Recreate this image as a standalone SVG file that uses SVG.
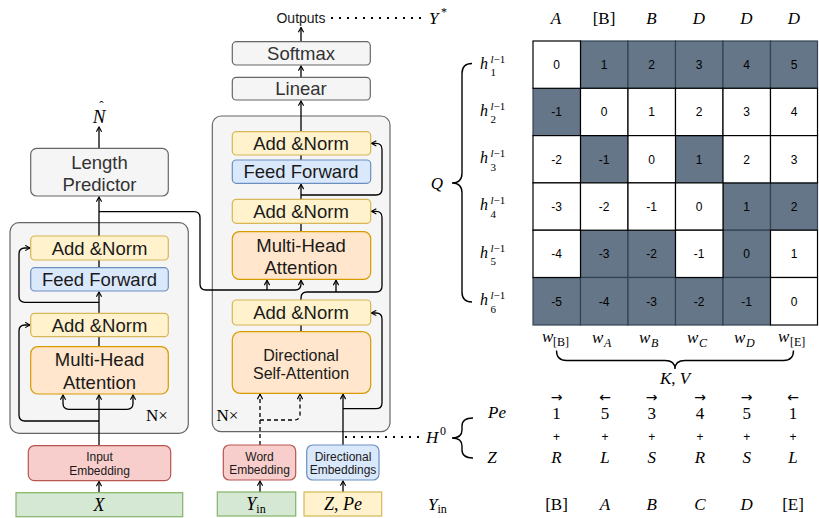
<svg xmlns="http://www.w3.org/2000/svg" width="819" height="518" viewBox="0 0 819 518">
<defs>
<marker id="ah" markerUnits="userSpaceOnUse" viewBox="0 0 8 8" refX="7" refY="4" markerWidth="7" markerHeight="7" orient="auto">
<path d="M1.5,1 L7,4 L1.5,7" fill="none" stroke="#000" stroke-width="1.3"/>
</marker>
<style>
.t{font-family:"Liberation Sans",Arial,sans-serif;text-anchor:middle;fill:#1a1a1a}
.big{font-size:18.5px}
.mid{font-size:16px}
.sm{font-size:12px}
.grey{fill:#333}
.m{font-family:"Liberation Serif","Times New Roman",serif;font-style:italic;fill:#000}
.r{font-family:"Liberation Serif","Times New Roman",serif;fill:#000}
.outer{fill:#f5f5f5;stroke:#666;stroke-width:1.2}
.gbox{fill:#f5f5f5;stroke:#666;stroke-width:1.2}
.an{fill:#fff2cc;stroke:#d6b656;stroke-width:1.2}
.ff{fill:#dae8fc;stroke:#6c8ebf;stroke-width:1.2}
.mha{fill:#ffe6cc;stroke:#d79b00;stroke-width:1.2}
.emb{fill:#f8cecc;stroke:#b85450;stroke-width:1.2}
.inp{fill:#d5e8d4;stroke:#82b366;stroke-width:1.2}
.c{fill:none;stroke:#000;stroke-width:1.3}
.a{marker-end:url(#ah)}
.d{stroke-dasharray:4 3}
.dot{fill:none;stroke:#000;stroke-width:2;stroke-dasharray:2 6}
.dk{fill:#647687;stroke:#314354;stroke-width:1.2}
.wh{fill:#fff;stroke:#000;stroke-width:1.2}
.n{font-family:"Liberation Sans",Arial,sans-serif;font-size:12px;text-anchor:middle;fill:#000}
.br{fill:none;stroke:#000;stroke-width:1.4}
</style>
</defs>

<!-- outer stacks -->
<g id="encoder-stack"><rect class="outer" x="10" y="222.7" width="178.3" height="210.6" rx="9"/>
<text class="r" x="146" y="421" font-size="17">N×</text></g>
<g id="decoder-stack"><rect class="outer" x="212.3" y="116" width="177.7" height="315.7" rx="9"/>
<text class="r" x="216.5" y="421" font-size="17">N×</text></g>

<!-- connectors -->
<g id="connectors">
<path class="c a" d="M99,492.7 V481.5"/>
<path class="c a" d="M99,445.7 V395"/>
<path class="c a" d="M99,409.3 H69 Q63,409.3 63,403.3 V395"/>
<path class="c a" d="M99,409.3 H127 Q133,409.3 133,403.3 V395"/>
<path class="c" d="M99,346.7 V336.7"/>
<path class="c a" d="M99,421 H25 Q19,421 19,415 V331 Q19,325 25,325 H30"/>
<path class="c a" d="M99,313.3 V292"/>
<path class="c" d="M99,267.7 V260"/>
<path class="c a" d="M99,302.3 H25 Q19,302.3 19,296.3 V254 Q19,248 25,248 H30"/>
<path class="c a" d="M99,236 V197"/>
<path class="c a" d="M99,148 V127"/>
<path class="c a" d="M99,211.7 H194 Q200,211.7 200,217.7 V284 Q200,290 206,290 H295 Q301,290 301,284 V280.3"/>
<path class="c a" d="M267,290 V280.3"/>
<path class="c a" d="M260,492 V481"/>
<path class="c a" d="M343,492 V481"/>
<path class="c a d" d="M260,445 V394.3"/>
<path class="c a d" d="M260,420 H294 Q300,420 300,414 V394.3"/>
<path class="c a" d="M343,445 V394.3"/>
<path class="c a" d="M343,408.7 H376 Q382,408.7 382,402.7 V319 Q382,313 376,313 H371.5"/>
<path class="c" d="M301,331.7 V325"/>
<path class="c a" d="M301,300 V298 Q301,292 307,292 H376 Q382,292 382,286 V217.3 Q382,211.3 376,211.3 H371.5"/>
<path class="c a" d="M336,292 V280.3"/>
<path class="c" d="M301,231.7 V223.3"/>
<path class="c a" d="M301,199.3 V184.3"/>
<path class="c a" d="M301,195 H376 Q382,195 382,189 V149.3 Q382,143.3 376,143.3 H371.5"/>
<path class="c" d="M301,160 V155"/>
<path class="c a" d="M301,131.7 V101"/>
<path class="c a" d="M301,77.3 V66"/>
<path class="c a" d="M301,41.7 V27.5"/>
<path class="dot" d="M331,18 H424"/>
<path class="dot" d="M345,437 H422"/>
</g>

<!-- encoder nodes -->
<g id="n-hat"><text class="m" x="99" y="122.5" font-size="19" text-anchor="middle">N</text><text class="r" x="101.5" y="110" font-size="13" text-anchor="middle">ˆ</text></g>
<g id="length-predictor"><rect class="gbox" x="30.7" y="148.3" width="137.6" height="47.7" rx="6"/>
<text class="t big grey" x="99.5" y="168.5">Length</text><text class="t big grey" x="99.5" y="190.5">Predictor</text></g>
<g id="enc-addnorm2"><rect class="an" x="30.7" y="236" width="137.6" height="24" rx="4"/><text class="t big" x="99.5" y="254.5">Add &amp;Norm</text></g>
<g id="enc-ff"><rect class="ff" x="30.7" y="267.7" width="137.6" height="23.3" rx="4"/><text class="t big" x="99.5" y="285.8">Feed Forward</text></g>
<g id="enc-addnorm1"><rect class="an" x="30.7" y="313.3" width="137.6" height="23.4" rx="4"/><text class="t big" x="99.5" y="331.5">Add &amp;Norm</text></g>
<g id="enc-mha"><rect class="mha" x="30.7" y="346.7" width="137.6" height="47.3" rx="7"/>
<text class="t big" x="99.5" y="365.5">Multi-Head</text><text class="t big" x="99.5" y="388.5">Attention</text></g>
<g id="input-embedding"><rect class="emb" x="28.3" y="445.7" width="142.4" height="35" rx="6"/>
<text class="t sm" x="99.5" y="461">Input</text><text class="t sm" x="99.5" y="474.5">Embedding</text></g>
<g id="x-input"><rect class="inp" x="16" y="492.7" width="166.7" height="24"/><text class="m" x="99" y="510.5" font-size="18" text-anchor="middle">X</text></g>

<!-- decoder nodes -->
<g id="outputs"><text class="t" x="301" y="22.5" font-size="14">Outputs</text></g>
<g id="softmax"><rect class="gbox" x="232.3" y="41.7" width="138" height="23.3" rx="4"/><text class="t big grey" x="301" y="59.8">Softmax</text></g>
<g id="linear"><rect class="gbox" x="232.3" y="77.3" width="138" height="22.7" rx="4"/><text class="t big grey" x="301" y="95.2">Linear</text></g>
<g id="dec-addnorm3"><rect class="an" x="232.3" y="131.7" width="138.4" height="23.3" rx="4"/><text class="t big" x="301" y="149.8">Add &amp;Norm</text></g>
<g id="dec-ff"><rect class="ff" x="232.3" y="160" width="138.4" height="23.3" rx="4"/><text class="t big" x="301" y="178.2">Feed Forward</text></g>
<g id="dec-addnorm2"><rect class="an" x="232.3" y="199.3" width="138.4" height="24" rx="4"/><text class="t big" x="301" y="217.8">Add &amp;Norm</text></g>
<g id="dec-mha"><rect class="mha" x="232.3" y="231.7" width="138.4" height="47.6" rx="7"/>
<text class="t big" x="301" y="251.5">Multi-Head</text><text class="t big" x="301" y="273.5">Attention</text></g>
<g id="dec-addnorm1"><rect class="an" x="232.3" y="300" width="138.4" height="25" rx="4"/><text class="t big" x="301" y="319">Add &amp;Norm</text></g>
<g id="dsa"><rect class="mha" x="232.3" y="331.7" width="138.4" height="61.6" rx="8"/>
<text class="t mid" x="301" y="360.7">Directional</text><text class="t mid" x="301" y="378.7">Self-Attention</text></g>
<g id="word-embedding"><rect class="emb" x="223.3" y="445" width="72.4" height="35" rx="6"/>
<text class="t sm" x="259.5" y="461">Word</text><text class="t sm" x="259.5" y="474">Embedding</text></g>
<g id="dir-embeddings"><rect class="ff" x="306.7" y="445" width="72.3" height="35" rx="6"/>
<text class="t sm" x="343" y="461">Directional</text><text class="t sm" x="343" y="474">Embeddings</text></g>
<g id="y-in"><rect class="inp" x="217.3" y="492" width="78.4" height="24"/>
<text class="m" x="256" y="510" font-size="18" text-anchor="middle">Y<tspan class="r" font-style="normal" font-size="12" dy="3">in</tspan></text></g>
<g id="z-pe"><rect class="an" x="304" y="492" width="77.7" height="24"/>
<text class="m" x="343" y="509.5" font-size="18" text-anchor="middle">Z<tspan font-style="normal">, </tspan>Pe</text></g>

<!-- matrix -->
<g id="matrix">
<g id="header">
<text class="m" x="429" y="23.5" font-size="17">Y</text><text class="r" x="441" y="16" font-size="12">*</text>
<text class="m" x="556" y="23.5" font-size="17" text-anchor="middle">A</text>
<text class="r" x="604" y="23.5" font-size="17" text-anchor="middle">[B]</text>
<text class="m" x="651.5" y="23.5" font-size="17" text-anchor="middle">B</text>
<text class="m" x="699" y="23.5" font-size="17" text-anchor="middle">D</text>
<text class="m" x="746.5" y="23.5" font-size="17" text-anchor="middle">D</text>
<text class="m" x="794" y="23.5" font-size="17" text-anchor="middle">D</text>
</g>
<g id="cells-dark">
<rect class="dk" x="580.5" y="41" width="47.5" height="47.3"/>
<rect class="dk" x="628" y="41" width="47.5" height="47.3"/>
<rect class="dk" x="675.5" y="41" width="47.5" height="47.3"/>
<rect class="dk" x="723" y="41" width="47.5" height="47.3"/>
<rect class="dk" x="770.5" y="41" width="47" height="47.3"/>
<rect class="dk" x="533" y="88.3" width="47.5" height="47.3"/>
<rect class="dk" x="580.5" y="135.6" width="47.5" height="47.3"/>
<rect class="dk" x="675.5" y="135.6" width="47.5" height="47.3"/>
<rect class="dk" x="723" y="182.9" width="47.5" height="47.3"/>
<rect class="dk" x="770.5" y="182.9" width="47" height="47.3"/>
<rect class="dk" x="580.5" y="230.2" width="47.5" height="47.3"/>
<rect class="dk" x="628" y="230.2" width="47.5" height="47.3"/>
<rect class="dk" x="723" y="230.2" width="47.5" height="47.3"/>
<rect class="dk" x="533" y="277.5" width="47.5" height="47.5"/>
<rect class="dk" x="580.5" y="277.5" width="47.5" height="47.5"/>
<rect class="dk" x="628" y="277.5" width="47.5" height="47.5"/>
<rect class="dk" x="675.5" y="277.5" width="47.5" height="47.5"/>
<rect class="dk" x="723" y="277.5" width="47.5" height="47.5"/>
</g>
<g id="cells-white">
<rect class="wh" x="533" y="41" width="47.5" height="47.3"/>
<rect class="wh" x="580.5" y="88.3" width="47.5" height="47.3"/>
<rect class="wh" x="628" y="88.3" width="47.5" height="47.3"/>
<rect class="wh" x="675.5" y="88.3" width="47.5" height="47.3"/>
<rect class="wh" x="723" y="88.3" width="47.5" height="47.3"/>
<rect class="wh" x="770.5" y="88.3" width="47" height="47.3"/>
<rect class="wh" x="533" y="135.6" width="47.5" height="47.3"/>
<rect class="wh" x="628" y="135.6" width="47.5" height="47.3"/>
<rect class="wh" x="723" y="135.6" width="47.5" height="47.3"/>
<rect class="wh" x="770.5" y="135.6" width="47" height="47.3"/>
<rect class="wh" x="533" y="182.9" width="47.5" height="47.3"/>
<rect class="wh" x="580.5" y="182.9" width="47.5" height="47.3"/>
<rect class="wh" x="628" y="182.9" width="47.5" height="47.3"/>
<rect class="wh" x="675.5" y="182.9" width="47.5" height="47.3"/>
<rect class="wh" x="533" y="230.2" width="47.5" height="47.3"/>
<rect class="wh" x="675.5" y="230.2" width="47.5" height="47.3"/>
<rect class="wh" x="770.5" y="230.2" width="47" height="47.3"/>
<rect class="wh" x="770.5" y="277.5" width="47" height="47.5"/>
</g>
<g id="cell-values">
<text class="n" x="556.7" y="69">0</text><text class="n" x="604.2" y="69">1</text><text class="n" x="651.7" y="69">2</text><text class="n" x="699.2" y="69">3</text><text class="n" x="746.7" y="69">4</text><text class="n" x="794" y="69">5</text>
<text class="n" x="556.7" y="116.3">-1</text><text class="n" x="604.2" y="116.3">0</text><text class="n" x="651.7" y="116.3">1</text><text class="n" x="699.2" y="116.3">2</text><text class="n" x="746.7" y="116.3">3</text><text class="n" x="794" y="116.3">4</text>
<text class="n" x="556.7" y="163.6">-2</text><text class="n" x="604.2" y="163.6">-1</text><text class="n" x="651.7" y="163.6">0</text><text class="n" x="699.2" y="163.6">1</text><text class="n" x="746.7" y="163.6">2</text><text class="n" x="794" y="163.6">3</text>
<text class="n" x="556.7" y="210.9">-3</text><text class="n" x="604.2" y="210.9">-2</text><text class="n" x="651.7" y="210.9">-1</text><text class="n" x="699.2" y="210.9">0</text><text class="n" x="746.7" y="210.9">1</text><text class="n" x="794" y="210.9">2</text>
<text class="n" x="556.7" y="258.2">-4</text><text class="n" x="604.2" y="258.2">-3</text><text class="n" x="651.7" y="258.2">-2</text><text class="n" x="699.2" y="258.2">-1</text><text class="n" x="746.7" y="258.2">0</text><text class="n" x="794" y="258.2">1</text>
<text class="n" x="556.7" y="305.5">-5</text><text class="n" x="604.2" y="305.5">-4</text><text class="n" x="651.7" y="305.5">-3</text><text class="n" x="699.2" y="305.5">-2</text><text class="n" x="746.7" y="305.5">-1</text><text class="n" x="794" y="305.5">0</text>
</g>
<g id="row-labels">
<text class="m" x="480" y="68.5" font-size="16">h</text><text class="m" x="490.5" y="62.5" font-size="11">l<tspan class="r" font-style="normal">−1</tspan></text><text class="r" x="490.5" y="76" font-size="11">1</text>
<text class="m" x="480" y="115.8" font-size="16">h</text><text class="m" x="490.5" y="109.8" font-size="11">l<tspan class="r" font-style="normal">−1</tspan></text><text class="r" x="490.5" y="123.3" font-size="11">2</text>
<text class="m" x="480" y="163.1" font-size="16">h</text><text class="m" x="490.5" y="157.1" font-size="11">l<tspan class="r" font-style="normal">−1</tspan></text><text class="r" x="490.5" y="170.6" font-size="11">3</text>
<text class="m" x="480" y="210.4" font-size="16">h</text><text class="m" x="490.5" y="204.4" font-size="11">l<tspan class="r" font-style="normal">−1</tspan></text><text class="r" x="490.5" y="217.9" font-size="11">4</text>
<text class="m" x="480" y="257.7" font-size="16">h</text><text class="m" x="490.5" y="251.7" font-size="11">l<tspan class="r" font-style="normal">−1</tspan></text><text class="r" x="490.5" y="265.2" font-size="11">5</text>
<text class="m" x="480" y="305" font-size="16">h</text><text class="m" x="490.5" y="299" font-size="11">l<tspan class="r" font-style="normal">−1</tspan></text><text class="r" x="490.5" y="312.5" font-size="11">6</text>
</g>
<g id="q-brace">
<path class="br" d="M472,63.5 Q462,63.5 462,73.5 V173 Q462,183 452,183 Q462,183 462,193 V292 Q462,302 472,302"/>
<text class="m" x="437" y="189" font-size="17" text-anchor="middle">Q</text>
</g>
<g id="col-labels">
<text class="m" x="542" y="342" font-size="17">w</text><text class="r" x="553" y="346" font-size="12">[B]</text>
<text class="m" x="592" y="343" font-size="17">w</text><text class="m" x="604" y="346.5" font-size="12">A</text>
<text class="m" x="639" y="343" font-size="17">w</text><text class="m" x="651" y="346.5" font-size="12">B</text>
<text class="m" x="687" y="343" font-size="17">w</text><text class="m" x="699" y="346.5" font-size="12">C</text>
<text class="m" x="734" y="343" font-size="17">w</text><text class="m" x="746" y="346.5" font-size="12">D</text>
<text class="m" x="778" y="342" font-size="17">w</text><text class="r" x="790" y="346" font-size="12">[E]</text>
</g>
<g id="kv-brace">
<path class="br" d="M556.5,350.5 Q556.5,360.5 566.5,360.5 H665 Q675,360.5 675,369 Q675,360.5 685,360.5 H783.5 Q793.5,360.5 793.5,350.5"/>
<text class="m" x="675" y="384" font-size="17" text-anchor="middle">K<tspan font-style="normal">, </tspan>V</text>
</g>
</g>

<!-- bottom right -->
<g id="h0">
<text class="m" x="426" y="443" font-size="17">H</text><text class="r" x="440" y="435" font-size="12">0</text>
<path class="br" d="M473,418 Q462,418 462,426 V430 Q462,438 452,438 Q462,438 462,446 V450 Q462,458 473,458"/>
<text class="m" x="497" y="417.5" font-size="17" text-anchor="middle">Pe</text>
<text class="m" x="492" y="462.5" font-size="17" text-anchor="middle">Z</text>
</g>
<g id="pe-row" text-anchor="middle">
<text class="r" x="556.5" y="419" font-size="17">1</text><text class="r" x="605" y="419" font-size="17">5</text><text class="r" x="651.7" y="419" font-size="17">3</text><text class="r" x="700" y="419" font-size="17">4</text><text class="r" x="746.7" y="419" font-size="17">5</text><text class="r" x="793" y="419" font-size="17">1</text>
</g>
<g id="pe-arrows" font-family="'DejaVu Sans',sans-serif" font-size="14" text-anchor="middle">
<text x="556.5" y="402">→</text><text x="605" y="402">←</text><text x="651.7" y="402">→</text><text x="700" y="402">→</text><text x="746.7" y="402">→</text><text x="793" y="402">←</text>
</g>
<g id="plus-row" font-family="'Liberation Sans',sans-serif" font-size="12" text-anchor="middle">
<text x="556.5" y="441">+</text><text x="605" y="441">+</text><text x="651.7" y="441">+</text><text x="700" y="441">+</text><text x="746.7" y="441">+</text><text x="793" y="441">+</text>
</g>
<g id="z-row" text-anchor="middle">
<text class="m" x="556.5" y="462.5" font-size="17">R</text><text class="m" x="605" y="462.5" font-size="17">L</text><text class="m" x="651.7" y="462.5" font-size="17">S</text><text class="m" x="700" y="462.5" font-size="17">R</text><text class="m" x="746.7" y="462.5" font-size="17">S</text><text class="m" x="793" y="462.5" font-size="17">L</text>
</g>
<g id="yin-row">
<text class="m" x="428" y="510" font-size="17">Y<tspan class="r" font-style="normal" font-size="12" dy="3">in</tspan></text>
<text class="r" x="556.5" y="510" font-size="17" text-anchor="middle">[B]</text>
<text class="m" x="605" y="510" font-size="17" text-anchor="middle">A</text>
<text class="m" x="651.7" y="510" font-size="17" text-anchor="middle">B</text>
<text class="m" x="700" y="510" font-size="17" text-anchor="middle">C</text>
<text class="m" x="746.7" y="510" font-size="17" text-anchor="middle">D</text>
<text class="r" x="793" y="510" font-size="17" text-anchor="middle">[E]</text>
</g>
</svg>
